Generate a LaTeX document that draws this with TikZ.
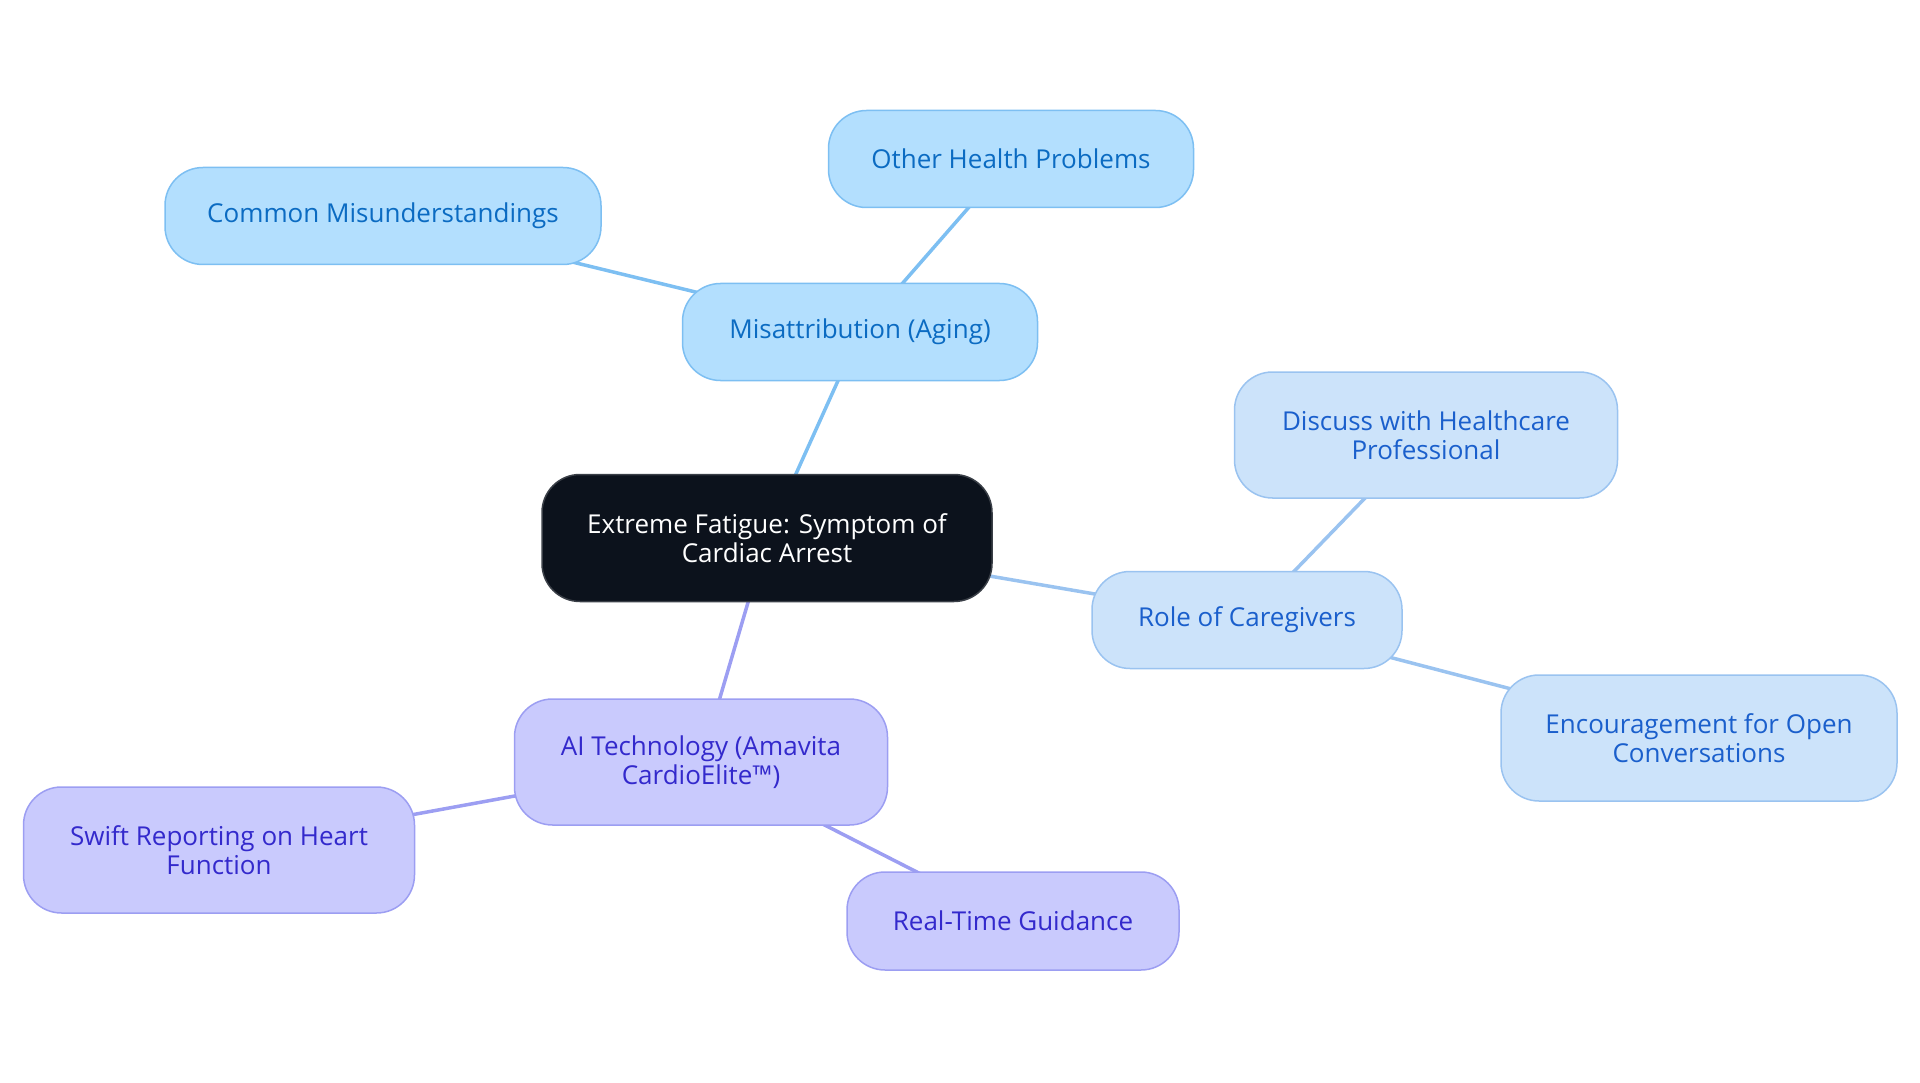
\documentclass[tikz,border=0pt]{standalone}
\usepackage{fontspec}
\setmainfont{Open Sans}
\usetikzlibrary{backgrounds}
\definecolor{rootfill}{HTML}{0C121C}
\definecolor{rootdraw}{HTML}{3A3F47}
\definecolor{afill}{HTML}{B3DFFE}
\definecolor{adraw}{HTML}{7DBFF2}
\definecolor{atext}{HTML}{0B6BC2}
\definecolor{bfill}{HTML}{CCE3FA}
\definecolor{bdraw}{HTML}{9AC3F0}
\definecolor{btext}{HTML}{1A5FCC}
\definecolor{cfill}{HTML}{C9CAFD}
\definecolor{cdraw}{HTML}{9C9EF2}
\definecolor{ctext}{HTML}{3329CC}
\tikzset{
  box/.style={rounded corners=38pt, line width=1.5pt, align=center, inner sep=0pt,
    font=\fontsize{26}{29.5}\selectfont},
  rootbox/.style={box, fill=rootfill, draw=rootdraw, text=white},
  abox/.style={box, fill=afill, draw=adraw, text=atext},
  bbox/.style={box, fill=bfill, draw=bdraw, text=btext},
  cbox/.style={box, fill=cfill, draw=cdraw, text=ctext},
  aedge/.style={draw=adraw, line width=3.5pt},
  bedge/.style={draw=bdraw, line width=3.5pt},
  cedge/.style={draw=cdraw, line width=3.5pt},
}
\begin{document}
\begin{tikzpicture}[x=1pt,y=-1pt]
\useasboundingbox (0,0) rectangle (1920,1083);
\node[rootbox, minimum width=450pt, minimum height=127pt] (root) at (767,538) {Extreme Fatigue: Symptom of\\Cardiac Arrest};
\node[abox, minimum width=355pt, minimum height=97pt] (mis) at (860,332) {Misattribution (Aging)};
\node[abox, minimum width=436pt, minimum height=97pt] (com) at (383,216) {Common Misunderstandings};
\node[abox, minimum width=365pt, minimum height=97pt] (oth) at (1011,159) {Other Health Problems};
\node[bbox, minimum width=310pt, minimum height=97pt] (role) at (1247,620) {Role of Caregivers};
\node[bbox, minimum width=383pt, minimum height=126pt] (disc) at (1426,435) {Discuss with Healthcare\\Professional};
\node[bbox, minimum width=396pt, minimum height=126pt] (enc) at (1699,738) {Encouragement for Open\\Conversations};
\node[cbox, minimum width=373pt, minimum height=126pt] (ai) at (701,762) {AI Technology (Amavita\\CardioElite™)};
\node[cbox, minimum width=391pt, minimum height=126pt] (swift) at (219,850) {Swift Reporting on Heart\\Function};
\node[cbox, minimum width=332pt, minimum height=98pt] (rt) at (1013,921) {Real-Time Guidance};
\begin{pgfonlayer}{background}
\draw[aedge] (root.center) -- (mis.center);
\draw[aedge] (mis.center) -- (com.center);
\draw[aedge] (mis.center) -- (oth.center);
\draw[bedge] (root.center) -- (role.center);
\draw[bedge] (role.center) -- (disc.center);
\draw[bedge] (role.center) -- (enc.center);
\draw[cedge] (root.center) -- (ai.center);
\draw[cedge] (ai.center) -- (swift.center);
\draw[cedge] (ai.center) -- (rt.center);
\end{pgfonlayer}
\end{tikzpicture}
\end{document}
